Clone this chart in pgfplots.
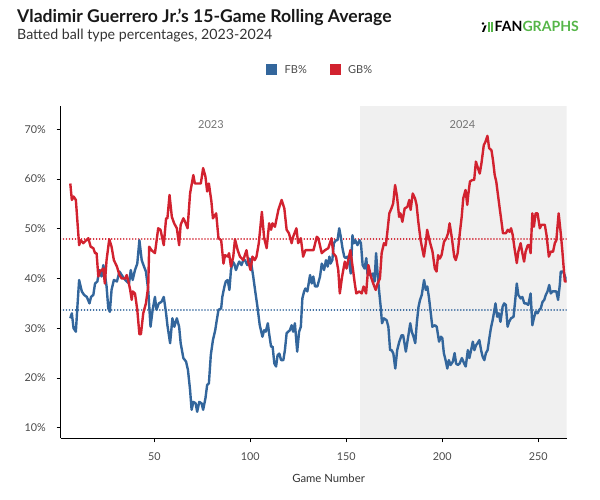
\documentclass[border=0pt]{standalone}
\usepackage{pgfplots}
\pgfplotsset{compat=1.18}
\usepackage{fontspec}
\setmainfont{Lato}
\definecolor{fbblue}{HTML}{33669C}
\definecolor{gbred}{HTML}{D2222F}
\definecolor{bgshade}{HTML}{F0F0F0}
\definecolor{fggreen}{HTML}{55B548}
\definecolor{ticktxt}{HTML}{4A4A4A}
\begin{document}
\begin{tikzpicture}[x=1pt,y=1pt]
\useasboundingbox (0pt,0pt) rectangle (600pt,500pt);
% titles
\node[anchor=base west,inner sep=0pt,text=black!90] at (17pt,477.3pt) {\fontsize{17.6}{20}\selectfont\bfseries Vladimir Guerrero Jr.'s 15-Game Rolling Average};
\node[anchor=base west,inner sep=0pt,text=black!80] at (17pt,460pt) {\fontsize{14.2}{16}\selectfont Batted ball type percentages, 2023-2024};
% logo
\fill[black] (483pt,476.5pt) circle (1.3pt);
\fill[black] (482pt,468pt) -- (484.5pt,474.5pt) -- (486.5pt,474.5pt) -- (484pt,468pt) -- cycle;
\fill[fggreen] (487.5pt,467.5pt) rectangle (489.5pt,477.5pt);
\fill[fggreen] (491pt,467.5pt) rectangle (493pt,477.5pt);
\node[anchor=base west,inner sep=0pt] at (494.5pt,468pt) {\fontsize{14.1}{15}\selectfont\bfseries FAN\textcolor{fggreen}{GRAPHS}};
% legend
\fill[fbblue] (265.5pt,424.5pt) rectangle (276.5pt,435.5pt);
\node[anchor=west,inner sep=0pt,text=ticktxt] at (284.5pt,430pt) {\fontsize{11}{13}\selectfont FB\%};
\fill[gbred] (329.5pt,424.5pt) rectangle (340.5pt,435.5pt);
\node[anchor=west,inner sep=0pt,text=ticktxt] at (348pt,430pt) {\fontsize{11}{13}\selectfont GB\%};
\begin{axis}[
  at={(60.5pt,61.5pt)}, anchor=south west,
  scale only axis, width=506.2pt, height=332.5pt,
  xmin=1.1, xmax=264.8, ymin=7.83, ymax=74.69,
  axis x line*=bottom, axis y line*=left,
  axis line style={black, line width=1.1pt},
  xtick={50,100,150,200,250}, ytick={10,20,30,40,50,60,70},
  yticklabel={\pgfmathprintnumber{\tick}\%},
  tick align=outside, major tick length=4pt,
  tick style={black, line width=0.6pt},
  /pgf/number format/assume math mode=true,
  ticklabel style={font=\fontsize{10.8}{12}\selectfont, text=ticktxt},
  xticklabel style={anchor=base, inner sep=0pt, yshift=-18.3pt},
  yticklabel style={anchor=base east, inner sep=0pt, xshift=-10.5pt, yshift=-3.9pt},
  xlabel={Game Number},
  xlabel style={font=\fontsize{11.3}{13}\selectfont, text=black!80, anchor=base, at={(axis description cs:0.5,0)}, xshift=15pt, yshift=-44.5pt, inner sep=0pt},
  axis on top,
  clip=true,
]
\fill[bgshade] (axis cs:157.1,7.83) rectangle (axis cs:264.8,74.69);
\node[text=black!55,font=\fontsize{11}{13}\selectfont] at (axis cs:79.5,71.0) {2023};
\node[text=black!55,font=\fontsize{11}{13}\selectfont] at (axis cs:210.5,71.0) {2024};
\addplot[color=gbred, mark=none, line width=1.7pt, line cap=round, dash pattern=on 0.01pt off 3pt] coordinates {(1.1,47.9)(264.8,47.9)};
\addplot[color=fbblue, mark=none, line width=1.7pt, line cap=round, dash pattern=on 0.01pt off 3pt] coordinates {(1.1,33.7)(264.8,33.7)};
% FB%
\addplot[draw=fbblue, mark=none, line width=2.4pt, line join=round] coordinates {
(6.2,32.0)(7.0,33.0)(7.9,30.0)(9.1,29.3)(9.9,34.3)(10.8,39.7)(12.2,37.4)(13.4,36.7)(14.8,36.3)(16.2,35.0)(17.0,36.3)(18.2,36.7)(19.1,39.0)(20.3,39.4)(21.3,41.7)(22.5,40.4)(23.4,42.7)(24.2,41.0)(25.1,38.4)(26.0,34.0)(26.8,33.3)(27.7,37.7)(28.9,39.7)
(30.5,39.4)(31.8,41.4)(33.0,40.7)(34.2,40.0)(35.6,39.4)(36.8,39.0)(37.7,41.7)(38.7,39.7)(39.9,41.7)(41.1,43.0)(42.2,47.7)(43.4,43.7)(44.6,42.4)(45.6,41.4)(46.8,37.7)(48.0,30.3)(49.1,33.7)(50.3,36.3)(51.1,33.7)(52.3,35.0)(53.7,35.3)(54.9,36.3)
(56.1,33.0)(56.8,30.6)(58.2,27.0)(59.4,32.0)(60.4,30.3)(61.7,32.0)(62.9,30.3)(63.7,27.0)(65.1,24.0)(66.5,23.3)(67.5,21.6)(68.6,17.6)(69.4,13.6)(70.3,15.2)(71.5,14.9)(72.3,13.2)(73.4,15.2)(74.6,14.9)(75.4,13.6)(76.6,15.9)(77.5,18.6)(78.4,18.9)(79.4,24.6)
(80.5,27.6)(81.7,29.6)(82.5,31.6)(83.4,33.7)(84.8,34.0)(85.4,36.3)(86.5,38.4)(87.2,39.4)(88.2,39.7)(89.1,37.7)(89.9,41.7)(90.8,43.4)(91.6,43.0)(92.5,41.7)(93.4,42.7)(94.2,43.4)(95.4,42.7)(96.3,43.7)(97.2,43.7)(98.4,42.7)(99.4,44.0)(100.2,43.7)(101.5,40.4)(102.7,37.0)(103.7,34.3)(104.9,30.6)
(106.3,28.3)(107.2,29.6)(108.0,29.3)(109.1,31.0)(109.9,28.6)(110.8,26.3)(111.6,26.3)(112.5,22.9)(113.4,22.3)(114.2,24.6)(115.1,24.9)(116.0,23.6)(117.2,23.6)(118.0,25.6)(118.9,29.0)(119.7,29.3)(120.6,29.6)(121.5,30.6)(122.3,29.3)(123.2,31.0)(124.4,25.3)(125.4,29.3)(126.3,30.3)(127.1,36.0)(128.0,37.4)(128.7,38.0)(129.7,37.4)
(131.1,40.7)(132.0,39.0)(132.8,40.4)(133.7,38.4)(134.9,38.4)(136.3,40.4)(137.2,43.0)(138.4,41.7)(139.4,43.7)(140.3,42.4)(141.2,44.4)(141.8,43.0)(142.7,43.7)(143.5,47.1)(144.6,47.7)(145.4,47.7)(146.3,50.1)(147.1,48.4)(148.0,46.1)(148.9,44.4)(149.7,44.1)(150.6,44.4)(151.4,43.4)(152.3,41.0)(153.2,48.7)(154.0,47.1)(154.7,47.7)
(155.8,46.7)(156.9,47.7)(157.6,47.1)(158.5,42.7)(159.5,42.0)(160.4,44.1)(161.0,41.0)(162.1,40.7)(162.9,40.7)(163.8,41.0)(164.7,39.4)(165.5,45.1)(166.4,40.4)(167.2,37.0)(167.9,34.3)(168.6,31.0)(169.6,32.0)(171.0,31.6)(171.9,30.3)(172.8,25.6)(173.6,25.6)(174.5,24.9)(175.5,21.9)(176.5,25.6)(177.6,27.3)(178.8,28.6)(179.6,28.6)
(181.0,25.3)(182.1,28.0)(183.3,31.0)(184.1,29.3)(185.0,28.3)(185.9,27.0)(186.7,31.0)(187.6,34.3)(188.4,35.7)(189.3,36.7)(190.5,39.7)(191.4,37.7)(192.2,38.4)(193.1,36.0)(194.0,33.0)(194.8,30.3)(196.2,30.6)(197.1,30.3)(198.3,27.3)(199.3,28.3)(200.0,28.0)(200.8,25.0)(201.7,23.6)(202.6,21.9)(203.4,23.6)(204.3,22.6)
(205.5,23.3)(206.4,25.0)(207.2,22.9)(208.1,22.6)(209.0,22.9)(210.2,24.0)(211.4,22.9)(212.2,22.3)(213.3,25.6)(214.1,24.0)(215.0,25.6)(215.9,27.3)(216.7,25.6)(217.6,26.6)(218.4,27.0)(219.3,27.6)(220.2,25.6)(221.0,24.3)(221.9,23.6)(222.7,25.0)(223.6,25.6)(224.5,28.0)(225.3,30.0)(226.2,31.6)(227.0,33.3)(227.7,35.0)(228.6,32.3)(229.4,33.0)(230.3,31.3)
(231.4,34.3)(232.2,35.0)(233.1,34.7)(234.0,30.3)(234.8,31.3)(235.8,32.0)(237.1,32.3)(237.9,35.3)(238.8,39.0)(239.6,36.7)(240.8,36.0)(241.7,36.3)(242.7,35.0)(243.6,35.0)(244.8,34.7)(246.0,37.0)(246.9,30.6)(247.7,32.0)(248.6,33.3)(249.6,33.0)(250.5,33.7)(251.3,34.0)(252.2,35.3)(253.1,35.7)(253.9,36.7)(254.8,37.4)(255.7,38.7)(256.5,37.0)(257.4,37.4)(258.2,37.4)(259.4,37.4)(260.3,35.7)(261.2,38.7)(261.7,41.4)(262.9,41.4)(263.7,40.7)(264.7,39.4)
};
% GB%
\addplot[draw=gbred, mark=none, line width=2.4pt, line join=round] coordinates {
(6.2,59.1)(7.0,55.8)(7.9,56.5)(9.1,55.8)(10.8,46.7)(11.7,47.7)(13.0,47.1)(15.6,48.1)(16.8,46.4)(18.2,46.1)(19.1,45.1)(19.9,45.1)(20.8,40.4)(21.7,41.4)(22.5,41.7)(23.4,42.0)(24.2,39.0)(25.1,43.7)(26.5,47.9)(27.7,46.4)(28.9,43.7)
(30.5,42.4)(31.8,40.7)(33.0,40.0)(34.8,40.0)(35.6,40.7)(36.5,39.4)(37.4,37.7)(38.2,35.7)(38.7,37.4)(39.9,37.0)(41.1,33.7)(42.2,28.8)(43.0,28.8)(44.2,33.0)(45.6,35.0)(46.8,38.4)(47.3,46.4)(48.5,45.7)(50.3,45.1)(52.0,50.1)(53.2,49.8)(54.9,46.7)
(56.1,52.1)(56.8,52.1)(57.9,56.8)(59.1,52.4)(60.3,51.1)(61.7,50.1)(62.9,46.7)(63.7,50.8)(65.1,52.1)(66.0,51.4)(67.3,50.1)(68.6,57.1)(70.3,60.8)(71.1,59.1)(74.2,59.1)(75.4,62.2)(76.6,60.5)(77.5,57.5)(78.4,59.1)(79.7,55.5)
(80.5,52.1)(82.2,53.1)(83.4,48.1)(84.8,47.7)(86.0,43.0)(86.8,44.7)(88.2,44.4)(88.9,45.1)(89.9,42.4)(91.1,44.4)(92.0,47.9)(93.4,45.7)(94.6,44.4)(96.3,43.7)(98.0,45.7)(98.9,43.4)(100.1,41.7)(101.1,44.4)(102.3,43.7)(103.2,44.4)(104.4,47.1)
(106.0,53.4)(107.2,48.1)(108.5,46.1)(109.8,51.1)(110.8,49.8)(111.5,51.1)(112.8,50.4)(114.6,53.8)(116.3,55.8)(117.7,54.1)(118.9,49.8)(120.1,49.1)(121.5,47.1)(122.3,48.4)(124.0,50.1)(124.9,47.1)(126.3,48.1)(127.5,44.4)(128.7,45.7)(130.1,45.7)
(132.9,45.7)(134.6,48.4)(135.4,48.1)(137.2,45.1)(138.9,45.7)(140.6,46.1)(142.3,48.1)(143.2,45.1)(144.6,44.4)(145.8,41.7)(146.6,37.0)(147.8,40.4)(149.2,43.4)(150.1,42.0)(151.4,44.4)(152.1,45.7)(153.5,41.7)(154.4,39.0)
(155.2,37.0)(156.8,37.4)(158.0,37.0)(159.0,38.4)(160.3,37.0)(161.5,42.7)(162.8,40.4)(164.0,39.0)(165.3,37.7)(166.3,39.0)(167.5,40.0)(168.4,45.1)(169.6,47.1)(170.6,46.7)(171.3,49.1)(172.4,53.1)(173.5,54.1)(174.4,55.1)(175.4,58.8)(176.4,56.5)(177.5,52.4)(178.2,53.1)(179.2,51.4)
(180.4,54.1)(181.8,54.4)(182.8,55.8)(183.5,53.8)(184.6,57.1)(185.8,56.1)(186.6,54.8)(187.5,51.4)(188.7,47.7)(190.4,44.4)(191.4,47.1)(192.1,49.8)(193.5,47.4)(194.9,45.4)(196.1,42.0)(197.0,41.4)(197.8,44.7)(198.7,44.0)(199.6,44.7)(200.9,47.4)(202.1,48.1)(203.0,49.1)(203.8,51.1)(205.0,48.1)
(206.2,44.4)(207.0,43.7)(208.0,45.1)(209.2,49.4)(210.1,52.4)(210.9,56.1)(212.1,57.8)(213.0,54.8)(213.5,56.8)(214.4,59.5)(215.6,59.8)(216.6,59.8)(217.5,63.5)(218.3,62.5)(219.5,61.1)(220.4,63.2)(221.6,66.8)(222.5,67.5)(223.5,68.7)(224.4,66.2)(225.6,65.8)(226.4,63.8)(227.3,60.8)(228.1,59.5)(229.0,56.8)(229.9,54.1)(230.7,51.8)(231.6,49.1)
(233.1,49.1)(234.1,49.8)(235.0,49.4)(235.8,50.1)(236.7,48.7)(237.6,46.1)(238.8,43.1)(239.6,45.4)(240.8,47.1)(241.7,45.1)(242.6,43.4)(243.4,45.4)(244.5,46.7)(245.3,46.7)(246.0,45.1)(246.9,53.1)(247.7,50.4)(248.6,53.1)(249.6,53.1)(250.8,50.1)(251.7,50.8)(253.4,50.8)(254.3,48.7)(255.5,44.4)(256.5,45.4)(257.7,45.4)(258.6,47.1)(259.4,47.7)(260.6,53.1)(261.7,49.1)(262.5,45.7)(263.8,39.4)(264.7,39.4)
};
\end{axis}
\end{tikzpicture}
\end{document}
